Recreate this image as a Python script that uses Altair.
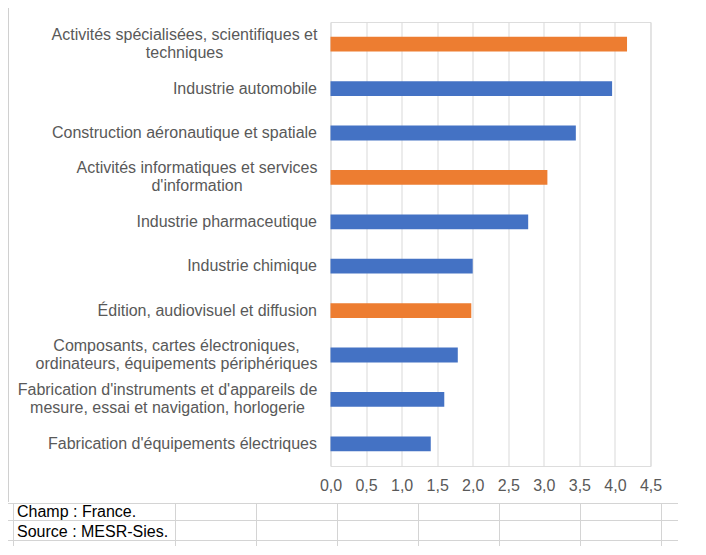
import altair as alt
import pandas as pd

# ---- data ----
categories = [
    "Activités spécialisées, scientifiques et|techniques",
    "Industrie automobile",
    "Construction aéronautique et spatiale",
    "Activités informatiques et services|d'information",
    "Industrie pharmaceutique",
    "Industrie chimique",
    "Édition, audiovisuel et diffusion",
    "Composants, cartes électroniques,|ordinateurs, équipements périphériques",
    "Fabrication d'instruments et d'appareils de|mesure, essai et navigation, horlogerie",
    "Fabrication d'équipements électriques",
]
values = [4.17, 3.96, 3.45, 3.05, 2.78, 2.00, 1.98, 1.79, 1.60, 1.41]
groups = ["Services", "Industrie", "Industrie", "Services", "Industrie",
          "Industrie", "Services", "Industrie", "Industrie", "Industrie"]
tick_values = [0, 0.5, 1, 1.5, 2, 2.5, 3, 3.5, 4, 4.5]
notes = ["Champ : France.", "Source : MESR-Sies."]

df = pd.DataFrame({"cat": categories, "val": values, "grp": groups})

FONT = "Liberation Sans"
GRID = "#d9d9d9"
SHEET = "#d4d4d4"

# plot origin on the page is (330.5, 22); decorations are relative to it
OX, OY = 330.5, 22

def px(x):
    return x - OX

def py(y):
    return y - OY

# two-line labels: the block is right-aligned, each line centred in it
# (key word to find the label, approximate width of its widest line in px)
wrapped = [("techniques", 265), ("informatiques", 240), ("Composants", 281), ("instruments", 299)]
LP = 14
pad_cond = [
    {"test": f"indexof(datum.label, '{k}') >= 0", "value": LP + w / 2} for k, w in wrapped
]

bars = alt.Chart(df).mark_bar().encode(
    y=alt.Y(
        "cat:N",
        sort=categories,
        scale=alt.Scale(paddingInner=0.667, paddingOuter=0.333),
        axis=alt.Axis(
            title=None,
            labelExpr="split(datum.label, '|')",
            labelFont=FONT,
            labelFontSize=16,
            labelColor="#595959",
            labelLimit=400,
            labelLineHeight=18,
            labelPadding={"condition": pad_cond, "value": LP},
            labelAlign={"condition": {"test": "indexof(datum.label, '|') >= 0", "value": "center"}, "value": "right"},
            labelOffset={"condition": {"test": "indexof(datum.label, '|') >= 0", "value": -9}, "value": 0},
            ticks=False,
            domain=False,
            grid=False,
        ),
    ),
    x=alt.X(
        "val:Q",
        scale=alt.Scale(domain=[0, 4.5], nice=False),
        axis=alt.Axis(
            title=None,
            values=tick_values,
            labelExpr="replace(format(datum.value, '.1f'), '.', ',')",
            labelFont=FONT,
            labelFontSize=16,
            labelColor="#595959",
            labelPadding=11,
            labelFlush=False,
            labelOverlap=False,
            ticks=False,
            domain=False,
            grid=True,
            gridColor=GRID,
            gridWidth=1,
        ),
    ),
    color=alt.Color(
        "grp:N",
        scale=alt.Scale(domain=["Industrie", "Services"], range=["#4472C4", "#ED7D31"]),
        legend=None,
    ),
)

layers = [bars]

# notes below the chart (spreadsheet cells)
for i, n in enumerate(notes):
    layers.append(
        alt.Chart(pd.DataFrame({"t": [n]})).mark_text(
            font=FONT, fontSize=16, color="#000000", align="left", baseline="middle"
        ).encode(text="t:N", x=alt.value(px(17)), y=alt.value(py(512 + 20 * i)))
    )

deco = pd.DataFrame({"a": [0]})

def hline(x1, x2, y, color=SHEET, w=1):
    return alt.Chart(deco).mark_rule(color=color, strokeWidth=w).encode(
        x=alt.value(px(x1)), x2=alt.value(px(x2)), y=alt.value(py(y))
    )

def vline(x, y1, y2, color=SHEET, w=1):
    return alt.Chart(deco).mark_rule(color=color, strokeWidth=w).encode(
        x=alt.value(px(x)), y=alt.value(py(y1)), y2=alt.value(py(y2))
    )

# chart frame (Excel chart area border)
layers.append(hline(8, 678, 6.5, color="#d0d0d0", w=2))
layers.append(vline(8.5, 6, 502, color="#d0d0d0", w=1))
# spreadsheet row marks at the left of the chart
y = 24.5
while y < 500:
    layers.append(hline(3, 8, y))
    y += 17
# spreadsheet rows under the chart
layers.append(hline(8, 678, 503.5))
layers.append(hline(0, 678, 520.5))
layers.append(hline(0, 678, 540.5))
for x in [13.5, 175.5, 256.5, 337.5, 418.5, 499.5, 580.5, 661.5]:
    layers.append(vline(x, 503, 546))

chart = alt.layer(*layers).properties(
    width=320,
    height=444,
    autosize=alt.AutoSizeParams(type="none"),
    padding={"left": OX - 8, "top": OY - 8, "right": 40, "bottom": 80},
).configure_view(stroke=None).configure(background="#ffffff")

chart.save("out.html", embed_options={"renderer": "svg", "actions": False})
